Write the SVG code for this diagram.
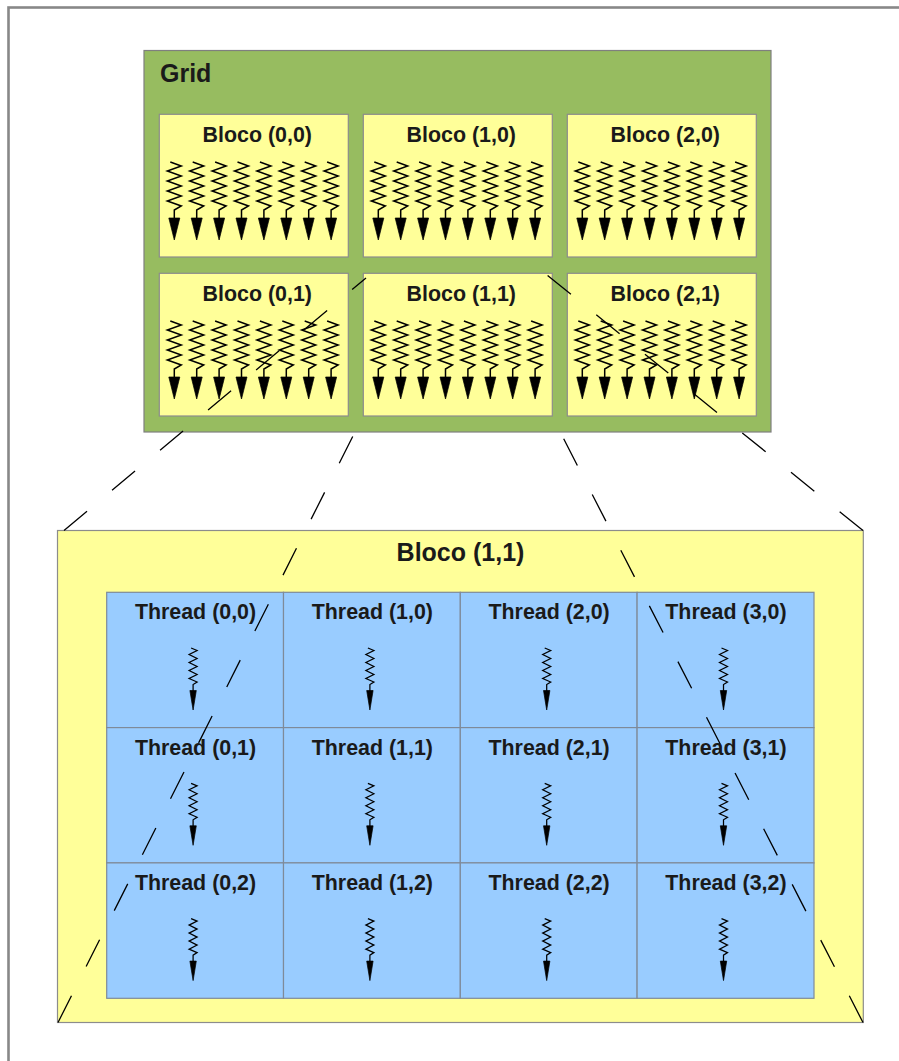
<svg xmlns="http://www.w3.org/2000/svg" xmlns:xlink="http://www.w3.org/1999/xlink" width="899" height="1061" viewBox="0 0 899 1061">
  <style>
    .frame { fill: #ffffff; stroke: #888888; stroke-width: 2.6; }
    .grid { fill: #97bc60; stroke: #7f7f7f; stroke-width: 1.2; }
    .block { fill: #ffff99; stroke: #8c8c8c; stroke-width: 1.2; }
    .cell { fill: #99ccff; stroke: #7f8a99; stroke-width: 1.2; }
    .lbl { font-family: "Liberation Sans", Arial, sans-serif; font-weight: bold; fill: #1a1a1a; }
    .title { font-size: 25px; }
    .blk { font-size: 21.4px; text-anchor: middle; }
    .big { font-size: 25px; text-anchor: middle; }
    .zig { fill: none; stroke: #000; stroke-width: 1.5; stroke-linejoin: miter; }
    .zigs { fill: none; stroke: #000; stroke-width: 1.25; }
    .head { fill: #000; stroke: #000; stroke-width: 0.7; }
    .zoom { fill: none; stroke: #000; stroke-width: 1.3; stroke-dasharray: 30 32.6; }
  </style>
  <defs>
    <!-- thread glyph inside a grid block: origin at centre x, top of the zigzag -->
    <g id="thr">
      <path class="zig" d="M-4,0 L7,4 L-7,9 L7,14 L-7,19 L7,24 L-7,29 L7,34 L-7,39 L7,44 L0,48 L0,56"/>
      <path class="head" d="M-5.5,56 L5.5,56 L0,78 Z"/>
    </g>
    <!-- eight threads of one grid block, relative to the block's top-left corner -->
    <g id="row8">
      <use xlink:href="#thr" x="15" y="48"/>
      <use xlink:href="#thr" x="37.4" y="48"/>
      <use xlink:href="#thr" x="59.8" y="48"/>
      <use xlink:href="#thr" x="82.2" y="48"/>
      <use xlink:href="#thr" x="104.6" y="48"/>
      <use xlink:href="#thr" x="127" y="48"/>
      <use xlink:href="#thr" x="149.4" y="48"/>
      <use xlink:href="#thr" x="171.8" y="48"/>
    </g>
    <!-- single thread glyph inside a cell of the enlarged block -->
    <g id="thrS">
      <path class="zigs" d="M-2,0 L4,2.5 L-4,6.5 L4,10.5 L-4,14.5 L4,18.5 L-4,22.5 L4,26.5 L-4,30.5 L4,34 L0,36.5 L0,43"/>
      <path class="head" d="M-3.2,42.5 L3.2,42.5 L0,62 Z"/>
    </g>
  </defs>

  <!-- outer page frame -->
  <rect class="frame" x="8.5" y="7.5" width="1000" height="1100"/>

  <!-- the grid of blocks -->
  <g id="grid">
    <rect class="grid" x="144" y="50.5" width="627" height="381.5"/>
    <text class="lbl title" x="160" y="82">Grid</text>
  </g>

  <g id="bloco-0-0">
    <rect class="block" x="159.3" y="114.3" width="189" height="142.7"/>
    <text class="lbl blk" x="257.3" y="142">Bloco (0,0)</text>
    <use xlink:href="#row8" x="159.3" y="114"/>
  </g>
  <g id="bloco-1-0">
    <rect class="block" x="363.3" y="114.3" width="189" height="142.7"/>
    <text class="lbl blk" x="461.3" y="142">Bloco (1,0)</text>
    <use xlink:href="#row8" x="363.3" y="114"/>
  </g>
  <g id="bloco-2-0">
    <rect class="block" x="567.3" y="114.3" width="189" height="142.7"/>
    <text class="lbl blk" x="665.3" y="142">Bloco (2,0)</text>
    <use xlink:href="#row8" x="567.3" y="114"/>
  </g>
  <g id="bloco-0-1">
    <rect class="block" x="159.3" y="273.3" width="189" height="142.7"/>
    <text class="lbl blk" x="257.3" y="301">Bloco (0,1)</text>
    <use xlink:href="#row8" x="159.3" y="273"/>
  </g>
  <g id="bloco-1-1">
    <rect class="block" x="363.3" y="273.3" width="189" height="142.7"/>
    <text class="lbl blk" x="461.3" y="301">Bloco (1,1)</text>
    <use xlink:href="#row8" x="363.3" y="273"/>
  </g>
  <g id="bloco-2-1">
    <rect class="block" x="567.3" y="273.3" width="189" height="142.7"/>
    <text class="lbl blk" x="665.3" y="301">Bloco (2,1)</text>
    <use xlink:href="#row8" x="567.3" y="273"/>
  </g>

  <!-- enlarged view of block (1,1) -->
  <g id="bloco-ampliado">
    <rect class="block" x="57.5" y="530.5" width="805.8" height="492"/>
    <text class="lbl big" x="460.5" y="561">Bloco (1,1)</text>
  </g>

  <g id="thread-0-0">
    <rect class="cell" x="106.7" y="592.3" width="176.8" height="135.3"/>
    <text class="lbl blk" x="195.5" y="619.3">Thread (0,0)</text>
    <use xlink:href="#thrS" x="193.1" y="648"/>
  </g>
  <g id="thread-1-0">
    <rect class="cell" x="283.5" y="592.3" width="176.8" height="135.3"/>
    <text class="lbl blk" x="372.3" y="619.3">Thread (1,0)</text>
    <use xlink:href="#thrS" x="369.9" y="648"/>
  </g>
  <g id="thread-2-0">
    <rect class="cell" x="460.3" y="592.3" width="176.8" height="135.3"/>
    <text class="lbl blk" x="549.1" y="619.3">Thread (2,0)</text>
    <use xlink:href="#thrS" x="546.7" y="648"/>
  </g>
  <g id="thread-3-0">
    <rect class="cell" x="637.1" y="592.3" width="176.9" height="135.3"/>
    <text class="lbl blk" x="725.9" y="619.3">Thread (3,0)</text>
    <use xlink:href="#thrS" x="723.5" y="648"/>
  </g>

  <g id="thread-0-1">
    <rect class="cell" x="106.7" y="727.6" width="176.8" height="135.3"/>
    <text class="lbl blk" x="195.5" y="754.6">Thread (0,1)</text>
    <use xlink:href="#thrS" x="193.1" y="783.3"/>
  </g>
  <g id="thread-1-1">
    <rect class="cell" x="283.5" y="727.6" width="176.8" height="135.3"/>
    <text class="lbl blk" x="372.3" y="754.6">Thread (1,1)</text>
    <use xlink:href="#thrS" x="369.9" y="783.3"/>
  </g>
  <g id="thread-2-1">
    <rect class="cell" x="460.3" y="727.6" width="176.8" height="135.3"/>
    <text class="lbl blk" x="549.1" y="754.6">Thread (2,1)</text>
    <use xlink:href="#thrS" x="546.7" y="783.3"/>
  </g>
  <g id="thread-3-1">
    <rect class="cell" x="637.1" y="727.6" width="176.9" height="135.3"/>
    <text class="lbl blk" x="725.9" y="754.6">Thread (3,1)</text>
    <use xlink:href="#thrS" x="723.5" y="783.3"/>
  </g>

  <g id="thread-0-2">
    <rect class="cell" x="106.7" y="862.9" width="176.8" height="135.4"/>
    <text class="lbl blk" x="195.5" y="889.9">Thread (0,2)</text>
    <use xlink:href="#thrS" x="193.1" y="918.6"/>
  </g>
  <g id="thread-1-2">
    <rect class="cell" x="283.5" y="862.9" width="176.8" height="135.4"/>
    <text class="lbl blk" x="372.3" y="889.9">Thread (1,2)</text>
    <use xlink:href="#thrS" x="369.9" y="918.6"/>
  </g>
  <g id="thread-2-2">
    <rect class="cell" x="460.3" y="862.9" width="176.8" height="135.4"/>
    <text class="lbl blk" x="549.1" y="889.9">Thread (2,2)</text>
    <use xlink:href="#thrS" x="546.7" y="918.6"/>
  </g>
  <g id="thread-3-2">
    <rect class="cell" x="637.1" y="862.9" width="176.9" height="135.4"/>
    <text class="lbl blk" x="725.9" y="889.9">Thread (3,2)</text>
    <use xlink:href="#thrS" x="723.5" y="918.6"/>
  </g>

  <!-- dashed projection lines from the corners of block (1,1) to its enlarged view -->
  <g id="connectors">
    <path class="zoom" d="M64,530.5 L366,278"/>
    <path class="zoom" d="M863,530.5 L547,275"/>
    <path class="zoom" d="M58,1022.5 L363,416"/>
    <path class="zoom" d="M863,1022.5 L552,416"/>
  </g>
</svg>
